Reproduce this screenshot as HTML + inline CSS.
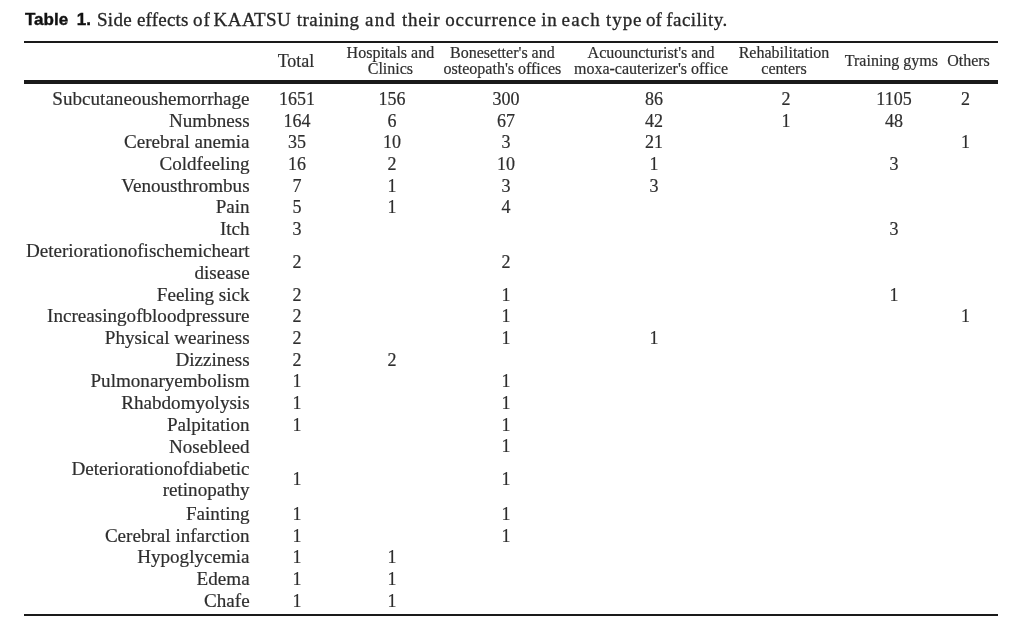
<!DOCTYPE html>
<html><head><meta charset="utf-8"><style>
html,body{margin:0;padding:0;background:#fff;}
body{width:1024px;height:634px;position:relative;overflow:hidden;color:#2e2e2e;}
.t{filter:blur(0.35px);-webkit-text-stroke:0.2px #2e2e2e;}
.t{position:absolute;white-space:nowrap;line-height:1;}
.c{transform:translateX(-50%);}
.rule{position:absolute;background:#1a1a1a;}
</style></head><body>
<div class="t" style="top:11.31px;font-size:17px;font-family:'Liberation Sans', sans-serif;left:25.00px;font-weight:bold;color:#111;-webkit-text-stroke:0.4px #111;">Table</div>
<div class="t" style="top:11.31px;font-size:17px;font-family:'Liberation Sans', sans-serif;left:76.80px;font-weight:bold;color:#111;-webkit-text-stroke:0.4px #111;">1.</div>
<div class="t" style="top:9.79px;font-size:19px;font-family:'Liberation Serif', serif;left:96.90px;letter-spacing:0.37px;color:#262626;-webkit-text-stroke:0.3px #262626;">Side</div>
<div class="t" style="top:9.79px;font-size:19px;font-family:'Liberation Serif', serif;left:136.90px;letter-spacing:0.22px;color:#262626;-webkit-text-stroke:0.3px #262626;">effects</div>
<div class="t" style="top:9.79px;font-size:19px;font-family:'Liberation Serif', serif;left:192.90px;letter-spacing:1.20px;color:#262626;-webkit-text-stroke:0.3px #262626;">of</div>
<div class="t" style="top:9.79px;font-size:19px;font-family:'Liberation Serif', serif;left:213.60px;letter-spacing:0.44px;color:#262626;-webkit-text-stroke:0.3px #262626;">KAATSU</div>
<div class="t" style="top:9.79px;font-size:19px;font-family:'Liberation Serif', serif;left:296.70px;letter-spacing:0.47px;color:#262626;-webkit-text-stroke:0.3px #262626;">training</div>
<div class="t" style="top:9.79px;font-size:19px;font-family:'Liberation Serif', serif;left:365.00px;letter-spacing:1.20px;color:#262626;-webkit-text-stroke:0.3px #262626;">and</div>
<div class="t" style="top:9.79px;font-size:19px;font-family:'Liberation Serif', serif;left:402.10px;letter-spacing:0.67px;color:#262626;-webkit-text-stroke:0.3px #262626;">their</div>
<div class="t" style="top:9.79px;font-size:19px;font-family:'Liberation Serif', serif;left:445.30px;letter-spacing:0.80px;color:#262626;-webkit-text-stroke:0.3px #262626;">occurrence</div>
<div class="t" style="top:9.79px;font-size:19px;font-family:'Liberation Serif', serif;left:541.30px;letter-spacing:0.70px;color:#262626;-webkit-text-stroke:0.3px #262626;">in</div>
<div class="t" style="top:9.79px;font-size:19px;font-family:'Liberation Serif', serif;left:561.60px;letter-spacing:1.13px;color:#262626;-webkit-text-stroke:0.3px #262626;">each</div>
<div class="t" style="top:9.79px;font-size:19px;font-family:'Liberation Serif', serif;left:606.00px;letter-spacing:0.93px;color:#262626;-webkit-text-stroke:0.3px #262626;">type</div>
<div class="t" style="top:9.79px;font-size:19px;font-family:'Liberation Serif', serif;left:646.00px;letter-spacing:0.00px;color:#262626;-webkit-text-stroke:0.3px #262626;">of</div>
<div class="t" style="top:9.79px;font-size:19px;font-family:'Liberation Serif', serif;left:666.20px;letter-spacing:0.47px;color:#262626;-webkit-text-stroke:0.3px #262626;">facility.</div>
<div class="rule" style="top:41px;height:2px;left:24px;width:974px"></div>
<div class="rule" style="top:79.5px;height:4px;left:24px;width:974px"></div>
<div class="rule" style="top:614px;height:2px;left:24px;width:974px"></div>
<div class="t c" style="top:51.92px;font-size:18px;font-family:'Liberation Serif', serif;left:296.00px;">Total</div>
<div class="t c" style="top:45.40px;font-size:16px;font-family:'Liberation Serif', serif;left:390.40px;">Hospitals and</div>
<div class="t c" style="top:61.20px;font-size:16px;font-family:'Liberation Serif', serif;left:390.40px;">Clinics</div>
<div class="t c" style="top:45.40px;font-size:16px;font-family:'Liberation Serif', serif;left:502.40px;">Bonesetter's and</div>
<div class="t c" style="top:61.20px;font-size:16px;font-family:'Liberation Serif', serif;left:502.40px;">osteopath's offices</div>
<div class="t c" style="top:45.40px;font-size:16px;font-family:'Liberation Serif', serif;left:651.00px;">Acuouncturist's and</div>
<div class="t c" style="top:61.20px;font-size:16px;font-family:'Liberation Serif', serif;left:651.00px;">moxa-cauterizer's office</div>
<div class="t c" style="top:45.40px;font-size:16px;font-family:'Liberation Serif', serif;left:784.00px;">Rehabilitation</div>
<div class="t c" style="top:61.20px;font-size:16px;font-family:'Liberation Serif', serif;left:784.00px;">centers</div>
<div class="t c" style="top:53.40px;font-size:16px;font-family:'Liberation Serif', serif;left:891.40px;">Training gyms</div>
<div class="t c" style="top:53.40px;font-size:16px;font-family:'Liberation Serif', serif;left:968.50px;">Others</div>
<div class="t r" style="top:88.70px;font-size:19.1px;font-family:'Liberation Serif', serif;right:774.40px;">Subcutaneoushemorrhage</div>
<div class="t c" style="top:89.62px;font-size:18px;font-family:'Liberation Serif', serif;left:297.00px;">1651</div>
<div class="t c" style="top:89.62px;font-size:18px;font-family:'Liberation Serif', serif;left:392.00px;">156</div>
<div class="t c" style="top:89.62px;font-size:18px;font-family:'Liberation Serif', serif;left:506.00px;">300</div>
<div class="t c" style="top:89.62px;font-size:18px;font-family:'Liberation Serif', serif;left:654.00px;">86</div>
<div class="t c" style="top:89.62px;font-size:18px;font-family:'Liberation Serif', serif;left:786.00px;">2</div>
<div class="t c" style="top:89.62px;font-size:18px;font-family:'Liberation Serif', serif;left:894.00px;">1105</div>
<div class="t c" style="top:89.62px;font-size:18px;font-family:'Liberation Serif', serif;left:965.50px;">2</div>
<div class="t r" style="top:110.60px;font-size:19.1px;font-family:'Liberation Serif', serif;right:774.40px;">Numbness</div>
<div class="t c" style="top:111.52px;font-size:18px;font-family:'Liberation Serif', serif;left:297.00px;">164</div>
<div class="t c" style="top:111.52px;font-size:18px;font-family:'Liberation Serif', serif;left:392.00px;">6</div>
<div class="t c" style="top:111.52px;font-size:18px;font-family:'Liberation Serif', serif;left:506.00px;">67</div>
<div class="t c" style="top:111.52px;font-size:18px;font-family:'Liberation Serif', serif;left:654.00px;">42</div>
<div class="t c" style="top:111.52px;font-size:18px;font-family:'Liberation Serif', serif;left:786.00px;">1</div>
<div class="t c" style="top:111.52px;font-size:18px;font-family:'Liberation Serif', serif;left:894.00px;">48</div>
<div class="t r" style="top:132.30px;font-size:19.1px;font-family:'Liberation Serif', serif;right:774.40px;">Cerebral anemia</div>
<div class="t c" style="top:133.23px;font-size:18px;font-family:'Liberation Serif', serif;left:297.00px;">35</div>
<div class="t c" style="top:133.23px;font-size:18px;font-family:'Liberation Serif', serif;left:392.00px;">10</div>
<div class="t c" style="top:133.23px;font-size:18px;font-family:'Liberation Serif', serif;left:506.00px;">3</div>
<div class="t c" style="top:133.23px;font-size:18px;font-family:'Liberation Serif', serif;left:654.00px;">21</div>
<div class="t c" style="top:133.23px;font-size:18px;font-family:'Liberation Serif', serif;left:965.50px;">1</div>
<div class="t r" style="top:154.00px;font-size:19.1px;font-family:'Liberation Serif', serif;right:774.40px;">Coldfeeling</div>
<div class="t c" style="top:154.93px;font-size:18px;font-family:'Liberation Serif', serif;left:297.00px;">16</div>
<div class="t c" style="top:154.93px;font-size:18px;font-family:'Liberation Serif', serif;left:392.00px;">2</div>
<div class="t c" style="top:154.93px;font-size:18px;font-family:'Liberation Serif', serif;left:506.00px;">10</div>
<div class="t c" style="top:154.93px;font-size:18px;font-family:'Liberation Serif', serif;left:654.00px;">1</div>
<div class="t c" style="top:154.93px;font-size:18px;font-family:'Liberation Serif', serif;left:894.00px;">3</div>
<div class="t r" style="top:175.70px;font-size:19.1px;font-family:'Liberation Serif', serif;right:774.40px;">Venousthrombus</div>
<div class="t c" style="top:176.62px;font-size:18px;font-family:'Liberation Serif', serif;left:297.00px;">7</div>
<div class="t c" style="top:176.62px;font-size:18px;font-family:'Liberation Serif', serif;left:392.00px;">1</div>
<div class="t c" style="top:176.62px;font-size:18px;font-family:'Liberation Serif', serif;left:506.00px;">3</div>
<div class="t c" style="top:176.62px;font-size:18px;font-family:'Liberation Serif', serif;left:654.00px;">3</div>
<div class="t r" style="top:197.40px;font-size:19.1px;font-family:'Liberation Serif', serif;right:774.40px;">Pain</div>
<div class="t c" style="top:198.33px;font-size:18px;font-family:'Liberation Serif', serif;left:297.00px;">5</div>
<div class="t c" style="top:198.33px;font-size:18px;font-family:'Liberation Serif', serif;left:392.00px;">1</div>
<div class="t c" style="top:198.33px;font-size:18px;font-family:'Liberation Serif', serif;left:506.00px;">4</div>
<div class="t r" style="top:219.20px;font-size:19.1px;font-family:'Liberation Serif', serif;right:774.40px;">Itch</div>
<div class="t c" style="top:220.12px;font-size:18px;font-family:'Liberation Serif', serif;left:297.00px;">3</div>
<div class="t c" style="top:220.12px;font-size:18px;font-family:'Liberation Serif', serif;left:894.00px;">3</div>
<div class="t r" style="top:241.00px;font-size:19.1px;font-family:'Liberation Serif', serif;right:774.40px;">Deteriorationofischemicheart</div>
<div class="t r" style="top:262.60px;font-size:19.1px;font-family:'Liberation Serif', serif;right:774.40px;">disease</div>
<div class="t c" style="top:252.73px;font-size:18px;font-family:'Liberation Serif', serif;left:297.00px;">2</div>
<div class="t c" style="top:252.73px;font-size:18px;font-family:'Liberation Serif', serif;left:506.00px;">2</div>
<div class="t r" style="top:284.60px;font-size:19.1px;font-family:'Liberation Serif', serif;right:774.40px;">Feeling sick</div>
<div class="t c" style="top:285.53px;font-size:18px;font-family:'Liberation Serif', serif;left:297.00px;">2</div>
<div class="t c" style="top:285.53px;font-size:18px;font-family:'Liberation Serif', serif;left:506.00px;">1</div>
<div class="t c" style="top:285.53px;font-size:18px;font-family:'Liberation Serif', serif;left:894.00px;">1</div>
<div class="t r" style="top:306.40px;font-size:19.1px;font-family:'Liberation Serif', serif;right:774.40px;">Increasingofbloodpressure</div>
<div class="t c" style="top:307.32px;font-size:18px;font-family:'Liberation Serif', serif;left:297.00px;">2</div>
<div class="t c" style="top:307.32px;font-size:18px;font-family:'Liberation Serif', serif;left:506.00px;">1</div>
<div class="t c" style="top:307.32px;font-size:18px;font-family:'Liberation Serif', serif;left:965.50px;">1</div>
<div class="t r" style="top:328.10px;font-size:19.1px;font-family:'Liberation Serif', serif;right:774.40px;">Physical weariness</div>
<div class="t c" style="top:329.03px;font-size:18px;font-family:'Liberation Serif', serif;left:297.00px;">2</div>
<div class="t c" style="top:329.03px;font-size:18px;font-family:'Liberation Serif', serif;left:506.00px;">1</div>
<div class="t c" style="top:329.03px;font-size:18px;font-family:'Liberation Serif', serif;left:654.00px;">1</div>
<div class="t r" style="top:349.70px;font-size:19.1px;font-family:'Liberation Serif', serif;right:774.40px;">Dizziness</div>
<div class="t c" style="top:350.62px;font-size:18px;font-family:'Liberation Serif', serif;left:297.00px;">2</div>
<div class="t c" style="top:350.62px;font-size:18px;font-family:'Liberation Serif', serif;left:392.00px;">2</div>
<div class="t r" style="top:371.00px;font-size:19.1px;font-family:'Liberation Serif', serif;right:774.40px;">Pulmonaryembolism</div>
<div class="t c" style="top:371.93px;font-size:18px;font-family:'Liberation Serif', serif;left:297.00px;">1</div>
<div class="t c" style="top:371.93px;font-size:18px;font-family:'Liberation Serif', serif;left:506.00px;">1</div>
<div class="t r" style="top:392.80px;font-size:19.1px;font-family:'Liberation Serif', serif;right:774.40px;">Rhabdomyolysis</div>
<div class="t c" style="top:393.73px;font-size:18px;font-family:'Liberation Serif', serif;left:297.00px;">1</div>
<div class="t c" style="top:393.73px;font-size:18px;font-family:'Liberation Serif', serif;left:506.00px;">1</div>
<div class="t r" style="top:414.80px;font-size:19.1px;font-family:'Liberation Serif', serif;right:774.40px;">Palpitation</div>
<div class="t c" style="top:415.73px;font-size:18px;font-family:'Liberation Serif', serif;left:297.00px;">1</div>
<div class="t c" style="top:415.73px;font-size:18px;font-family:'Liberation Serif', serif;left:506.00px;">1</div>
<div class="t r" style="top:436.50px;font-size:19.1px;font-family:'Liberation Serif', serif;right:774.40px;">Nosebleed</div>
<div class="t c" style="top:437.43px;font-size:18px;font-family:'Liberation Serif', serif;left:506.00px;">1</div>
<div class="t r" style="top:458.60px;font-size:19.1px;font-family:'Liberation Serif', serif;right:774.40px;">Deteriorationofdiabetic</div>
<div class="t r" style="top:480.40px;font-size:19.1px;font-family:'Liberation Serif', serif;right:774.40px;">retinopathy</div>
<div class="t c" style="top:470.43px;font-size:18px;font-family:'Liberation Serif', serif;left:297.00px;">1</div>
<div class="t c" style="top:470.43px;font-size:18px;font-family:'Liberation Serif', serif;left:506.00px;">1</div>
<div class="t r" style="top:503.60px;font-size:19.1px;font-family:'Liberation Serif', serif;right:774.40px;">Fainting</div>
<div class="t c" style="top:504.53px;font-size:18px;font-family:'Liberation Serif', serif;left:297.00px;">1</div>
<div class="t c" style="top:504.53px;font-size:18px;font-family:'Liberation Serif', serif;left:506.00px;">1</div>
<div class="t r" style="top:525.60px;font-size:19.1px;font-family:'Liberation Serif', serif;right:774.40px;">Cerebral infarction</div>
<div class="t c" style="top:526.52px;font-size:18px;font-family:'Liberation Serif', serif;left:297.00px;">1</div>
<div class="t c" style="top:526.52px;font-size:18px;font-family:'Liberation Serif', serif;left:506.00px;">1</div>
<div class="t r" style="top:547.40px;font-size:19.1px;font-family:'Liberation Serif', serif;right:774.40px;">Hypoglycemia</div>
<div class="t c" style="top:548.32px;font-size:18px;font-family:'Liberation Serif', serif;left:297.00px;">1</div>
<div class="t c" style="top:548.32px;font-size:18px;font-family:'Liberation Serif', serif;left:392.00px;">1</div>
<div class="t r" style="top:569.10px;font-size:19.1px;font-family:'Liberation Serif', serif;right:774.40px;">Edema</div>
<div class="t c" style="top:570.02px;font-size:18px;font-family:'Liberation Serif', serif;left:297.00px;">1</div>
<div class="t c" style="top:570.02px;font-size:18px;font-family:'Liberation Serif', serif;left:392.00px;">1</div>
<div class="t r" style="top:590.70px;font-size:19.1px;font-family:'Liberation Serif', serif;right:774.40px;">Chafe</div>
<div class="t c" style="top:591.62px;font-size:18px;font-family:'Liberation Serif', serif;left:297.00px;">1</div>
<div class="t c" style="top:591.62px;font-size:18px;font-family:'Liberation Serif', serif;left:392.00px;">1</div>
</body></html>
